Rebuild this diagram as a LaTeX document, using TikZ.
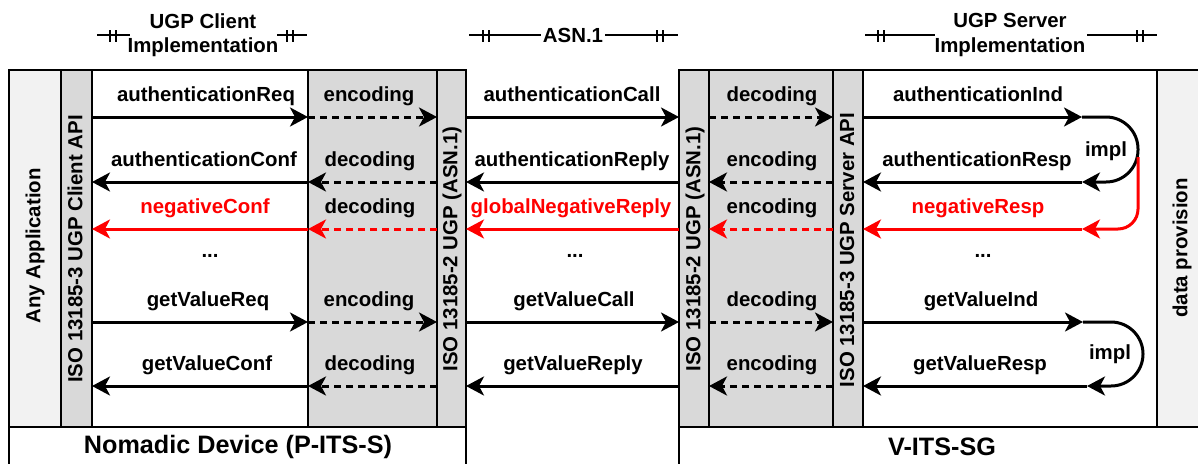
\documentclass[tikz,border=0pt]{standalone}
\usepackage{fontspec}
\setmainfont{Liberation Sans}
\usetikzlibrary{arrows.meta}
\definecolor{colgrey}{HTML}{D9D9D9}
\definecolor{collight}{HTML}{F2F2F2}
\definecolor{colred}{HTML}{FF0000}
\begin{document}
\begin{tikzpicture}[x=1pt,y=-1pt,
  lbl/.style={font=\fontsize{20.4}{25}\selectfont\bfseries, inner sep=0pt, anchor=base},
  rlbl/.style={lbl, text=colred},
  vtxt/.style={font=\fontsize{20.4}{25}\selectfont\bfseries, inner sep=0pt, rotate=90},
  hdrtxt/.style={font=\fontsize{20.4}{24.5}\selectfont\bfseries, inner sep=0pt, align=center},
  bigtxt/.style={font=\fontsize{25.2}{30}\selectfont\bfseries, inner sep=0pt},
  tipk/.tip={Stealth[length=18pt,width=19pt,inset=5pt]},
  arr/.style={line width=3pt, -tipk},
  darr/.style={arr, dash pattern=on 7pt off 5pt},
  rarr/.style={arr, draw=colred},
  rdarr/.style={darr, draw=colred},
  frame/.style={line width=2.6pt},
  hdr/.style={line width=2pt},
  dbar/.pic={\draw[line width=2pt] (-3,-6)--(-3,6) (3,-6)--(3,6);},
]
\clip (0,0) rectangle (1198,463);
\fill[white] (0,0) rectangle (1198,463);

% ---------- column fills ----------
\fill[collight] (9,70) rectangle (61,427);
\fill[colgrey] (61,70) rectangle (92,427);
\fill[colgrey] (308,70) rectangle (466,427);
\fill[colgrey] (679,70) rectangle (863,427);
\fill[collight] (1157,70) rectangle (1215,427);

% ---------- borders ----------
\draw[frame] (9,70) rectangle (466,427);
\draw[frame] (61,70) -- (61,427) (92,70) -- (92,427) (308,70) -- (308,427) (437,70) -- (437,427);
\draw[frame] (679,70) rectangle (1215,427);
\draw[frame] (709,70) -- (709,427) (833,70) -- (833,427) (863,70) -- (863,427) (1157,70) -- (1157,427);
\draw[frame] (9,427) rectangle (466,490);
\draw[frame] (679,427) rectangle (1215,490);

% ---------- headers ----------
\node[hdrtxt] (hcl) at (203,35) {UGP Client\\Implementation};
\draw[hdr] (97,35) -- (130,35) (277,35) -- (307,35);
\pic at (112.5,36) {dbar};
\pic at (289.5,36) {dbar};
\node[hdrtxt] (hasn) at (573,35) {ASN.1};
\draw[hdr] (469,35) -- (541,35) (605,35) -- (678,35);
\pic at (486,36) {dbar};
\pic at (660,36) {dbar};
\node[hdrtxt] (hsv) at (1010,35) {UGP Server\\Implementation};
\draw[hdr] (865,35) -- (935,35) (1087,35) -- (1157,35);
\pic at (880.5,36) {dbar};
\pic at (1139.5,36) {dbar};

% ---------- vertical labels ----------
\node[vtxt] (vapp) at (35,246) {Any Application};
\node[vtxt] (vcapi) at (75,249) {ISO 13185-3 UGP Client API};
\node[vtxt] (vasnl) at (452,249) {ISO 13185-2 UGP (ASN.1)};
\node[vtxt] (vasnr) at (695,249) {ISO 13185-2 UGP (ASN.1)};
\node[vtxt] (vsapi) at (847,250) {ISO 13185-3 UGP Server API};
\node[vtxt] (vdata) at (1182,248) {data provision};

\node[bigtxt] (nd) at (238,447) {Nomadic Device (P-ITS-S)};
\node[bigtxt] (vg) at (942,447) {V-ITS-SG};

% ---------- named coordinates ----------
\coordinate (cA) at (92,0);
\coordinate (cB) at (308,0);
\coordinate (cC) at (437,0);
\coordinate (cD) at (466,0);
\coordinate (cE) at (679,0);
\coordinate (cF) at (709,0);
\coordinate (cG) at (833,0);
\coordinate (cH) at (863,0);
\coordinate (cT) at (1082,0);
\coordinate (r1) at (0,117);
\coordinate (r2) at (0,182);
\coordinate (r3) at (0,229);
\coordinate (r4) at (0,322);
\coordinate (r5) at (0,386);

% ---------- row 1 ----------
\draw[arr] (cA|-r1) -- (cB|-r1);
\draw[darr] (cB|-r1) -- (cC|-r1);
\draw[arr] (cD|-r1) -- (cE|-r1);
\draw[darr] (cF|-r1) -- (cG|-r1);
\draw[arr] (cH|-r1) -- (cT|-r1);
\node[lbl] (l11) at (206,101.5) {authenticationReq};
\node[lbl] (l12) at (369,101.5) {encoding};
\node[lbl] (l13) at (572,101.5) {authenticationCall};
\node[lbl] (l14) at (772,101.5) {decoding};
\node[lbl] (l15) at (978,101.5) {authenticationInd};

% ---------- row 2 ----------
\draw[arr] (cB|-r2) -- (cA|-r2);
\draw[darr] (cC|-r2) -- (cB|-r2);
\draw[arr] (cE|-r2) -- (cD|-r2);
\draw[darr] (cG|-r2) -- (cF|-r2);
\draw[arr] (cT|-r2) -- (cH|-r2);
\node[lbl] (l21) at (204,166.5) {authenticationConf};
\node[lbl] (l22) at (370,166.5) {decoding};
\node[lbl] (l23) at (572,166.5) {authenticationReply};
\node[lbl] (l24) at (772,166.5) {encoding};
\node[lbl] (l25) at (977,166.5) {authenticationResp};

% ---------- row 3 (red) ----------
\draw[rarr] (cB|-r3) -- (cA|-r3);
\draw[rdarr] (cC|-r3) -- (cB|-r3);
\draw[rarr] (cE|-r3) -- (cD|-r3);
\draw[rdarr] (cG|-r3) -- (cF|-r3);
\draw[rarr] (cT|-r3) -- (cH|-r3);
\node[rlbl] (l31) at (205,213.5) {negativeConf};
\node[lbl] (l32) at (370,213.5) {decoding};
\node[rlbl] (l33) at (571,213.5) {globalNegativeReply};
\node[lbl] (l34) at (772,213.5) {encoding};
\node[rlbl] (l35) at (978,213.5) {negativeResp};

% ---------- impl loop (authentication) ----------
\draw[line width=3pt, rounded corners=32pt, -tipk]
  (cT|-r1) -- (1138,117) -- (1138,182) -- (cT|-r2);
\coordinate (rs) at (1138,157);
\draw[line width=3pt, draw=colred, rounded corners=20pt, -tipk]
  (rs) -- (1138,229) -- (cT|-r3);
\node[lbl] (imp1) at (1106,156) {impl};

% ---------- dots ----------
\node[lbl] (d1) at (210,257) {...};
\node[lbl] (d2) at (575,257) {...};
\node[lbl] (d3) at (983,257) {...};

% ---------- row 4 ----------
\coordinate (cT4) at (1083,0);
\coordinate (cU4) at (1087,0);
\draw[arr] (cA|-r4) -- (cB|-r4);
\draw[darr] (cB|-r4) -- (cC|-r4);
\draw[arr] (cD|-r4) -- (cE|-r4);
\draw[darr] (cF|-r4) -- (cG|-r4);
\draw[arr] (cH|-r4) -- (cT4|-r4);
\node[lbl] (l41) at (208,306.5) {getValueReq};
\node[lbl] (l42) at (369,306.5) {encoding};
\node[lbl] (l43) at (574,306.5) {getValueCall};
\node[lbl] (l44) at (772,306.5) {decoding};
\node[lbl] (l45) at (981,306.5) {getValueInd};

% ---------- row 5 ----------
\draw[arr] (cB|-r5) -- (cA|-r5);
\draw[darr] (cC|-r5) -- (cB|-r5);
\draw[arr] (cE|-r5) -- (cD|-r5);
\draw[darr] (cG|-r5) -- (cF|-r5);
\draw[arr] (cU4|-r5) -- (cH|-r5);
\node[lbl] (l51) at (207,370.5) {getValueConf};
\node[lbl] (l52) at (370,370.5) {decoding};
\node[lbl] (l53) at (573,370.5) {getValueReply};
\node[lbl] (l54) at (772,370.5) {encoding};
\node[lbl] (l55) at (980,370.5) {getValueResp};

% ---------- impl loop (getValue) ----------
\draw[line width=3pt, rounded corners=32pt, -tipk]
  (cT4|-r4) -- (1143,322) -- (1143,386) -- (cU4|-r5);
\node[lbl] (imp2) at (1110,359) {impl};
\end{tikzpicture}
\end{document}
